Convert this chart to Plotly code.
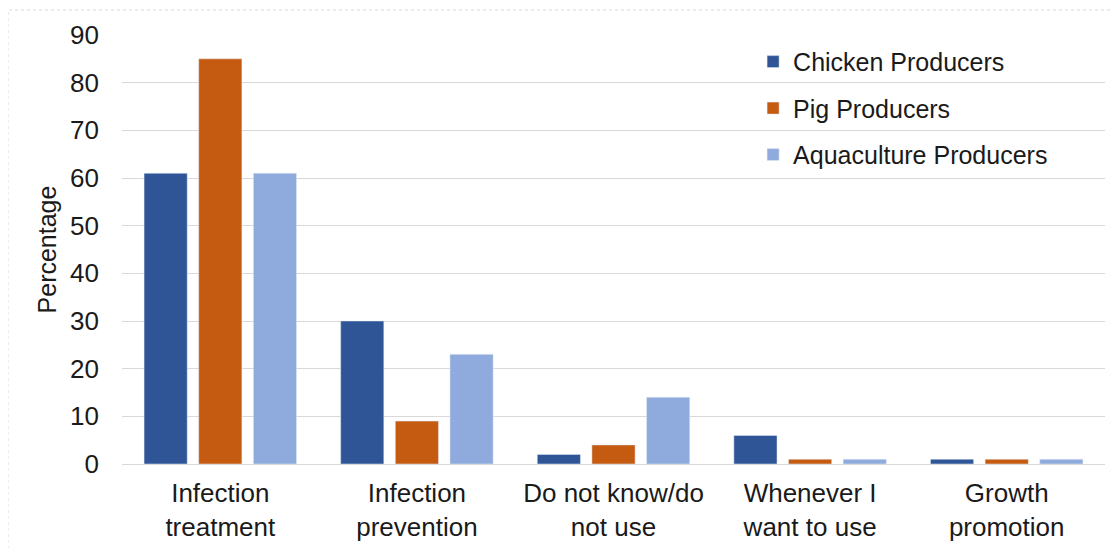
import plotly.graph_objects as go

categories = ["Infection<br>treatment", "Infection<br>prevention", "Do not know/do<br>not use",
              "Whenever I<br>want to use", "Growth<br>promotion"]
chicken = [61, 30, 2, 6, 1]
pig = [85, 9, 4, 1, 1]
aqua = [61, 23, 14, 1, 1]
series_names = ["Chicken Producers", "Pig Producers", "Aquaculture Producers"]
colors = ["#2F5597", "#C55A11", "#8FAADC"]
y_ticks = [0, 10, 20, 30, 40, 50, 60, 70, 80, 90]

fig = go.Figure()
for name, vals, col in zip(series_names, [chicken, pig, aqua], colors):
    fig.add_trace(go.Bar(x=categories, y=vals, name=name, marker_color=col,
                         legendgroup=name))

font = dict(family="Liberation Sans, Arial, sans-serif", size=26, color="#1a1a1a")
fig.update_layout(
    width=1111, height=540,
    margin=dict(l=114, r=14, t=27, b=84, autoexpand=False),
    paper_bgcolor="white", plot_bgcolor="white",
    font=font,
    barmode="group", bargap=0.166, bargroupgap=0.21,
    showlegend=True,
    legend=dict(x=0.642, y=0.991, xanchor="left", yanchor="top",
                bgcolor="rgba(0,0,0,0)", font=dict(size=25, color="#1a1a1a"),
                tracegroupgap=11),
    xaxis=dict(showgrid=False, showline=True, linecolor="#D9D9D9", linewidth=1,
               ticks="", tickfont=dict(size=26), automargin=False,
               ticklabelstandoff=6),
    yaxis=dict(range=[0, 90], tickvals=y_ticks, showgrid=True, gridcolor="#D9D9D9",
               gridwidth=1, zeroline=False, ticks="", ticklabelstandoff=22,
               tickfont=dict(size=26), automargin=False,
               title=dict(text="Percentage", font=dict(size=25), standoff=6)),
    shapes=[dict(type="rect", xref="paper", yref="paper",
                 x0=-114/983, x1=1+40/983, y0=-120/429, y1=1+25/429,
                 line=dict(color="#D9D9D9", width=1, dash="dot"), fillcolor="rgba(0,0,0,0)")],
)
fig.write_html("out.html")
